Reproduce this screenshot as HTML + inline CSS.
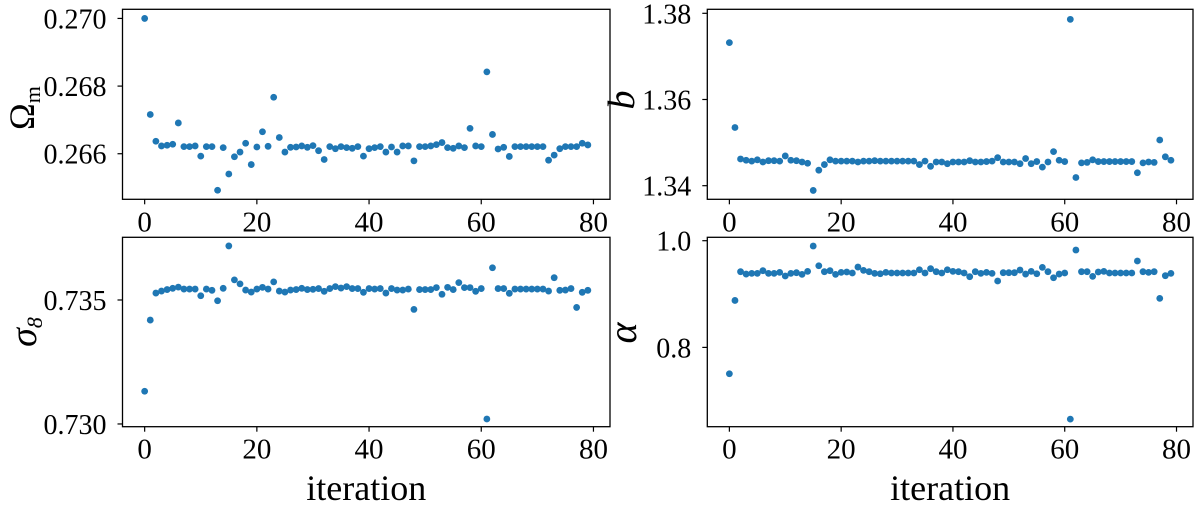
<!DOCTYPE html>
<html><head><meta charset="utf-8"><style>
html,body{margin:0;padding:0;background:#fff;}
svg{display:block;}
text{font-family:"Liberation Serif","DejaVu Serif",serif;fill:#000;}
</style></head>
<body>
<svg id="fig" width="1200" height="506" viewBox="0 0 1200 506" xmlns="http://www.w3.org/2000/svg"></svg>
<script>
const xTicks = [0,20,40,60,80];
const omegaValues = [0.2700,0.26716,0.26637,0.26623,0.26625,0.26628,0.26691,0.26621,0.26621,0.26623,0.26593,0.26621,0.26621,0.26492,0.26618,0.26540,0.26591,0.26605,0.26631,0.26568,0.26620,0.26665,0.26622,0.26767,0.26648,0.26605,0.26619,0.26620,0.26623,0.26619,0.26624,0.26609,0.26583,0.26621,0.26615,0.26621,0.26618,0.26616,0.26621,0.26593,0.26615,0.26618,0.26621,0.26605,0.26620,0.26605,0.26623,0.26623,0.26579,0.26621,0.26621,0.26623,0.26627,0.26633,0.26618,0.26616,0.26623,0.26618,0.26675,0.26623,0.26621,0.26842,0.26657,0.26614,0.26619,0.26592,0.26621,0.26621,0.26621,0.26621,0.26621,0.26621,0.26581,0.26596,0.26615,0.26621,0.26621,0.26621,0.26631,0.26626];
const omegaTicks = [0.266,0.268,0.270];
const bValues = [1.3732,1.3535,1.3462,1.3459,1.3457,1.3460,1.3455,1.3458,1.3458,1.3457,1.3469,1.3459,1.3458,1.3455,1.3452,1.3389,1.3436,1.3449,1.3460,1.3457,1.3457,1.3457,1.3457,1.3455,1.3457,1.3457,1.3458,1.3457,1.3457,1.3457,1.3457,1.3457,1.3457,1.3457,1.3449,1.3457,1.3445,1.3455,1.3455,1.3451,1.3455,1.3455,1.3455,1.3458,1.3455,1.3455,1.3456,1.3457,1.3465,1.3455,1.3455,1.3455,1.3451,1.3463,1.3451,1.3456,1.3443,1.3455,1.3479,1.3459,1.3456,1.3786,1.3419,1.3453,1.3454,1.3460,1.3456,1.3456,1.3456,1.3456,1.3456,1.3456,1.3456,1.3430,1.3453,1.3455,1.3454,1.3506,1.3467,1.3459];
const bTicks = [1.34,1.36,1.38];
const sigmaValues = [0.73132,0.73419,0.73528,0.73536,0.73542,0.73547,0.73552,0.73544,0.73544,0.73544,0.73517,0.73544,0.73539,0.73497,0.73547,0.73718,0.73581,0.73565,0.73540,0.73532,0.73544,0.73551,0.73544,0.73573,0.73536,0.73532,0.73540,0.73542,0.73547,0.73542,0.73543,0.73546,0.73535,0.73546,0.73554,0.73548,0.73554,0.73546,0.73546,0.73531,0.73546,0.73544,0.73546,0.73528,0.73546,0.73540,0.73540,0.73544,0.73462,0.73542,0.73542,0.73542,0.73550,0.73523,0.73551,0.73542,0.73570,0.73550,0.73550,0.73535,0.73546,0.73020,0.73630,0.73546,0.73546,0.73527,0.73544,0.73544,0.73544,0.73544,0.73544,0.73544,0.73536,0.73590,0.73539,0.73540,0.73546,0.73470,0.73531,0.73539];
const sigmaTicks = [0.730,0.735];
const alphaValues = [0.7506,0.888,0.9419,0.9375,0.9388,0.9388,0.9438,0.9388,0.9388,0.9406,0.9338,0.9388,0.9400,0.9369,0.9425,0.99,0.9531,0.9419,0.9438,0.9369,0.9406,0.9413,0.9394,0.9506,0.9444,0.9419,0.9388,0.9381,0.9406,0.9394,0.9394,0.9394,0.9394,0.9394,0.9456,0.9394,0.9475,0.9419,0.9394,0.9456,0.9425,0.9419,0.9394,0.9325,0.9419,0.9388,0.9406,0.9388,0.9244,0.9400,0.9400,0.9400,0.9450,0.9375,0.9425,0.9381,0.9500,0.9419,0.9306,0.9375,0.9394,0.6656,0.9825,0.9419,0.9419,0.9331,0.9413,0.9425,0.9394,0.9394,0.9394,0.9394,0.9394,0.9619,0.9419,0.9406,0.9419,0.8919,0.9344,0.9388];
const alphaTicks = [0.8,1.0];

const NS="http://www.w3.org/2000/svg";
const svg=document.getElementById('fig');
function mk(tag,attrs,parent){const e=document.createElementNS(NS,tag);for(const k in attrs)e.setAttribute(k,attrs[k]);(parent||svg).appendChild(e);return e;}

function panel(cfg){
  const g=mk('g',{});
  
  
  const xMin=-3.95,xMax=82.95;
  const sx=v=>cfg.L+(v-xMin)/(xMax-xMin)*(cfg.R-cfg.L);
  const sy=v=>cfg.B-(v-cfg.y0)/(cfg.y1-cfg.y0)*(cfg.B-cfg.T);
  cfg.values.forEach((v,i)=>{
    const c=mk('circle',{cx:sx(i),cy:sy(v),r:3.4,fill:'#1f77b4'},g);
    
    
  });
  const frame=mk('rect',{x:cfg.L,y:cfg.T,width:cfg.R-cfg.L,height:cfg.B-cfg.T,fill:'none',stroke:'#000','stroke-width':1.3},g);
  
  
  xTicks.forEach(t=>{
    const x=sx(t);
    mk('line',{x1:x,x2:x,y1:cfg.B,y2:cfg.B+5,stroke:'#000','stroke-width':1.2},g);
    const tx=mk('text',{x:x,y:cfg.B+32,'text-anchor':'middle','font-size':29},g);
    tx.textContent=t;
    
    
  });
  cfg.ticks.forEach(t=>{
    const y=sy(t);
    mk('line',{x1:cfg.L-5,x2:cfg.L,y1:y,y2:y,stroke:'#000','stroke-width':1.2},g);
    const tx=mk('text',{x:cfg.L-16,y:y+10,'text-anchor':'end','font-size':28},g);
    tx.textContent=t.toFixed(cfg.dec);
    
    
  });
  const yl=mk('text',{x:0,y:0,'text-anchor':'middle','font-size':cfg.lsize,'font-style':cfg.italic?'italic':'normal',transform:`translate(${cfg.lx},${cfg.ly}) rotate(-90)`},g);
  yl.innerHTML=cfg.label;
  
  
  if(cfg.xlabel){
    const xl=mk('text',{x:(cfg.L+cfg.R)/2,y:500,'text-anchor':'middle','font-size':36},g);
    xl.textContent='iteration';
    
    
  }
}
panel({name:'omega-m-panel',L:122.5,R:610,T:9.3,B:199.3,y0:0.264653,y1:0.27027,values:omegaValues,ticks:omegaTicks,dec:3,label:'Ω<tspan font-size="22" dy="6">m</tspan>',lx:34,ly:108,lsize:36});
panel({name:'b-panel',L:707.3,R:1193,T:9.3,B:199.3,y0:1.33684,y1:1.38093,values:bValues,ticks:bTicks,dec:2,label:'b',lx:634,ly:100,lsize:38,italic:true});
panel({name:'sigma8-panel',L:122.5,R:610,T:237.3,B:426.7,y0:0.72989,y1:0.737528,values:sigmaValues,ticks:sigmaTicks,dec:3,label:'σ<tspan font-size="22" dy="6">8</tspan>',lx:36,ly:332,lsize:38,italic:true,xlabel:true});
panel({name:'alpha-panel',L:707.3,R:1193,T:237.3,B:426.7,y0:0.65136,y1:1.00637,values:alphaValues,ticks:alphaTicks,dec:1,label:'α',lx:636,ly:333,lsize:40,italic:true,xlabel:true});
</script>
</body></html>
